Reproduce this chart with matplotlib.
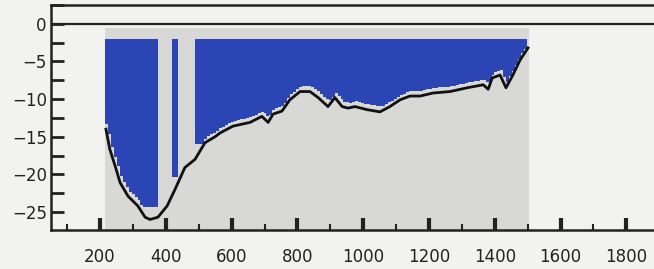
import numpy as np
import matplotlib
matplotlib.use("Agg")
import matplotlib.pyplot as plt
from matplotlib.ticker import MultipleLocator

# bed profile (distance, depth)
dist = [218, 230, 246, 261, 285, 315, 337, 352, 376, 404, 428, 458, 489, 519,
        550, 565, 604, 656, 692, 711, 726, 753, 777, 808, 838, 863, 893, 914,
        936, 954, 975, 1011, 1051, 1081, 1112, 1142, 1173, 1212, 1264, 1316,
        1365, 1380, 1392, 1416, 1434, 1455, 1477, 1501]
depth = [-14.0, -16.7, -18.9, -21.1, -22.9, -24.2, -25.7, -26.0, -25.7, -24.2,
         -22.0, -19.1, -18.0, -15.8, -15.0, -14.5, -13.6, -13.1, -12.3, -13.1,
         -12.0, -11.6, -10.1, -9.0, -9.0, -9.8, -11.0, -9.8, -11.0, -11.2,
         -11.0, -11.4, -11.7, -11.0, -10.1, -9.6, -9.6, -9.2, -9.0, -8.5,
         -8.1, -8.7, -7.2, -6.8, -8.5, -6.8, -4.8, -3.2]

# grey measured section and blue coloured blocks (start, end, lowest cell)
section = (215, 1505, -0.5)
blue_top = -2.0
blue_blocks = [(215, 380, -24.3), (419, 440, -20.4), (490, 1505, -16.0)]
bed_gap = 0.7

bg = "#f2f2f0"
fig = plt.figure(figsize=(6.54, 2.69), dpi=100, facecolor=bg)
ax = fig.add_axes([51 / 654, 39 / 269, 605 / 654, 225 / 269], facecolor=bg)
ax.set_xlim(51, 1890)
ax.set_ylim(-27.4, 2.5)

ax.axvspan(section[0], section[1], ymin=0, ymax=(section[2] + 27.4) / 29.9,
           color="#d8d8d6", lw=0, zorder=1)

for x0, x1, floor in blue_blocks:
    xs = np.arange(x0, x1 + 1, 9.0)
    bottom = np.maximum(np.interp(xs, dist, depth) + bed_gap, floor)
    ax.fill_between(xs, blue_top, bottom, step="post", color="#2b46b4",
                    lw=0, zorder=2)

ax.plot(dist, depth, color="#111111", lw=2, zorder=3)
ax.axhline(0, color="#222222", lw=1.6, zorder=4)

for s in ax.spines.values():
    s.set_linewidth(1.8)
    s.set_color("#222222")

ax.set_xticks(range(200, 1801, 200))
ax.set_xticks([x for x in range(100, 1800, 200)], minor=True)
ax.set_yticks(range(-25, 1, 5))
ax.yaxis.set_minor_locator(MultipleLocator(2.5))
ax.tick_params(axis="x", which="major", direction="in", length=9, width=3,
               pad=13, color="#222222")
ax.tick_params(axis="x", which="minor", direction="in", length=4, width=1.5,
               color="#222222")
ax.tick_params(axis="y", which="both", direction="in", length=9, width=2,
               pad=3, color="#222222")

for lab in ax.get_xticklabels() + ax.get_yticklabels():
    lab.set_family("DejaVu Sans")
    lab.set_fontsize(12)
    lab.set_color("#222222")

plt.savefig("out.png", dpi=100, facecolor=bg)
